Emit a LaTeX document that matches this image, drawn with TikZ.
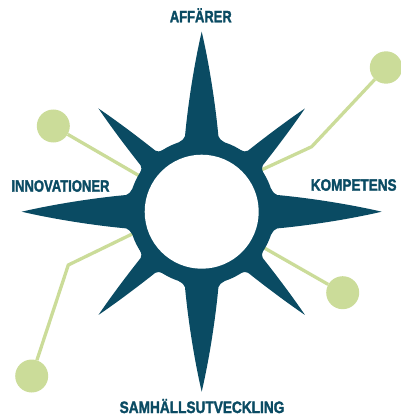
\documentclass[tikz,border=0pt]{standalone}
\usepackage{fontspec}
\setmainfont{Liberation Sans}
\newfontfamily\lblfont[BoldFeatures={FakeBold=2}]{Liberation Sans}
\definecolor{teal0}{HTML}{0A4B63}
\definecolor{lgreen}{HTML}{CBDC99}
\tikzset{
  spikefill/.style={fill=teal0, draw=none},
  conn/.style={draw=lgreen, line width=3.3pt},
  dot/.style={circle, fill=lgreen, draw=none, minimum size=33pt, inner sep=0pt},
  lbl/.style={text=teal0, font=\lblfont\fontsize{16.5}{16.5}\selectfont\bfseries, inner sep=0pt, anchor=base},
  ringnode/.style={circle, draw=none, inner sep=0pt},
}
\begin{document}
\begin{tikzpicture}[x=1pt,y=-1pt]
\path[use as bounding box] (0,0) rectangle (400,417);
\coordinate (c) at (201.7,211.7);
% green connectors
\node[dot] (g1) at (53.3,126) {};
\coordinate (e1) at (141,176.8);
\draw[conn] (g1) -- (e1);
\node[dot, minimum size=32.4pt] (g2) at (386,67.5) {};
\coordinate (b2) at (311.7,146.7);
\coordinate (e2) at (260,170.6);
\draw[conn] (g2) -- (b2) -- (e2);
\node[dot] (g3) at (342.7,292.7) {};
\coordinate (e3) at (263.2,247.3);
\draw[conn] (g3) -- (e3);
\node[dot] (g4) at (31.7,376) {};
\coordinate (b4) at (68.3,265);
\coordinate (e4) at (133.6,233.3);
\draw[conn] (g4) -- (b4) -- (e4);
% main spikes
\foreach \ang in {0,90,180,270}{
  \fill[spikefill, shift={(c)}, rotate=\ang]
    (69.3,23) .. controls (71.5,19.5) and (73,17.2) .. (75.5,16.7)
    .. controls (110,13.5) and (150,7) .. (180,0)
    .. controls (150,-7) and (110,-13.5) .. (75.5,-16.7)
    .. controls (73,-17.2) and (71.5,-19.5) .. (69.3,-23)
    -- (40,0) -- cycle;
}
% diagonal spikes
\foreach \ang in {45,135,225,315}{
  \fill[spikefill, shift={(c)}, rotate=\ang]
    (71,16) .. controls (72.5,12.8) and (73.5,10.8) .. (76,10.4)
    .. controls (100,7.6) and (125,4) .. (146,0)
    .. controls (125,-4) and (100,-7.6) .. (76,-10.4)
    .. controls (73.5,-10.8) and (72.5,-12.8) .. (71,-16)
    -- (40,0) -- cycle;
}
% ring
\node[ringnode, fill=teal0, minimum size=146pt] (ring) at (c) {};
\node[ringnode, fill=white, minimum size=114pt] (hole) at (c) {};
% labels
\node[lbl] (t1) at (200.8,22.3) {\scalebox{0.785}[1]{AFFÄRER}};
\node[lbl] (t2) at (60.5,191.7) {\scalebox{0.79}[1]{INNOVATIONER}};
\node[lbl] (t3) at (353.7,190.7) {\scalebox{0.82}[1]{KOMPETENS}};
\node[lbl] (t4) at (202,413) {\scalebox{0.828}[1]{SAMHÄLLSUTVECKLING}};
\end{tikzpicture}
\end{document}
